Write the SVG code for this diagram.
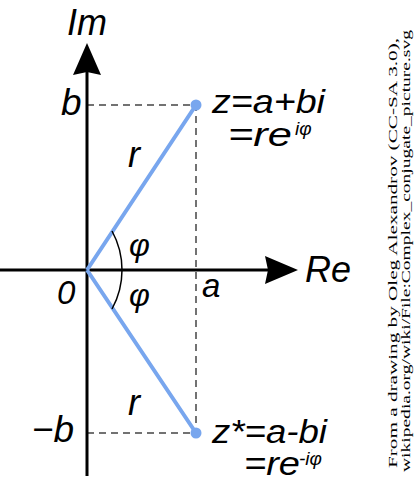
<svg xmlns="http://www.w3.org/2000/svg" width="415" height="487" viewBox="0 0 415 487">
<style>
.lbl{font-family:"Liberation Sans",Arial,sans-serif;font-style:italic;fill:#000}
.dash{stroke:#444;stroke-width:1.5;stroke-dasharray:7,5;fill:none}
.axis{stroke:#000;stroke-width:3;fill:none}
.vec{stroke:#78A6EE;stroke-width:4;fill:none}
.dot{fill:#78A6EE}
.credit{font-family:"Liberation Serif","DejaVu Serif",serif;font-size:13px;fill:#000}
</style>
<rect width="415" height="487" fill="#fff"/>
<g id="connectors">
<path class="dash" d="M87,105 H196 V433 M87,433 H196"/>
<path class="axis" d="M87,476 V70"/>
<path class="axis" d="M0,270 H268"/>
<polygon points="87,43 101,75 87,72 73,75" fill="#000"/>
<polygon points="298,270 265,284 268,270 265,256" fill="#000"/>
<path class="vec" d="M87,270 L196,105 M87,270 L196,433"/>
<path d="M112,231 A81,81 0 0 1 112,309" stroke="#000" stroke-width="1.5" fill="none"/>
</g>
<g id="point-z"><circle class="dot" cx="196" cy="105" r="5.5"/></g>
<g id="point-zconj"><circle class="dot" cx="196" cy="433" r="5.5"/></g>
<g id="labels">
<text class="lbl" x="67" y="35" font-size="36">Im</text>
<text class="lbl" x="305" y="282" font-size="36">Re</text>
<text class="lbl" x="61" y="115" font-size="37">b</text>
<text class="lbl" x="32" y="442" font-size="37">−b</text>
<text class="lbl" x="57" y="304" font-size="33">0</text>
<text class="lbl" x="202" y="297" font-size="33">a</text>
<text class="lbl" x="128" y="167" font-size="36">r</text>
<text class="lbl" x="128" y="415" font-size="36">r</text>
<text class="lbl" x="129" y="256" font-size="32">φ</text>
<text class="lbl" x="129" y="306" font-size="32">φ</text>
<text class="lbl" x="212" y="113" font-size="33" textLength="113" lengthAdjust="spacingAndGlyphs">z=a+bi</text>
<text class="lbl" x="228" y="146" font-size="33" textLength="64" lengthAdjust="spacingAndGlyphs">=re</text>
<text class="lbl" x="295" y="135" font-size="19">iφ</text>
<text class="lbl" x="212" y="443" font-size="33" textLength="115" lengthAdjust="spacingAndGlyphs">z*=a-bi</text>
<text class="lbl" x="244" y="475" font-size="33" textLength="56" lengthAdjust="spacingAndGlyphs">=re</text>
<text class="lbl" x="299" y="465" font-size="19">-iφ</text>
</g>
<g id="credit">
<text class="credit" transform="translate(397,468) rotate(-90)" textLength="430" lengthAdjust="spacingAndGlyphs">From a drawing by Oleg Alexandrov (CC-SA 3.0),</text>
<text class="credit" transform="translate(410,472) rotate(-90)" textLength="442" lengthAdjust="spacingAndGlyphs">wikipedia.org/wiki/File:Complex_conjugate_picture.svg</text>
</g>
</svg>
